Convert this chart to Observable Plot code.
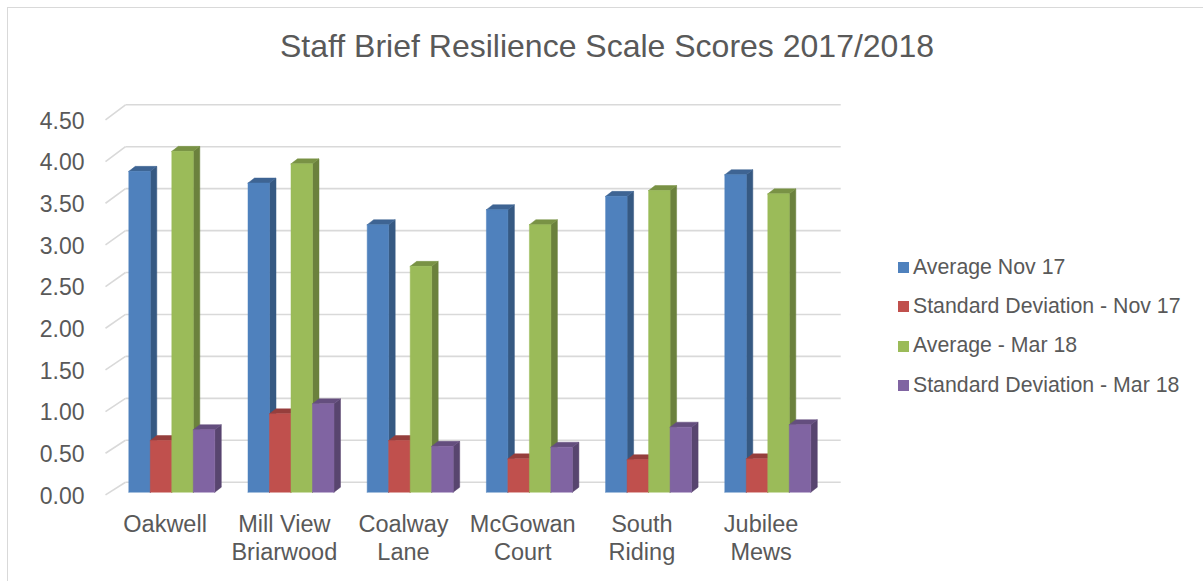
<!DOCTYPE html>
<html>
<head>
<meta charset="utf-8">
<script src="https://cdn.jsdelivr.net/npm/d3@7"></script>
<script src="https://cdn.jsdelivr.net/npm/@observablehq/plot@0.6"></script>
<style>
  body { margin: 0; background: #fff; font-family: "Liberation Sans", Arial, sans-serif; }
  #chart { position: relative; width: 1203px; height: 581px; overflow: hidden; }
  #chart svg { position: absolute; left: 0; top: 0; }
  #frame { position: absolute; left: 6.5px; top: 6.5px; width: 1400px; height: 800px;
           border-left: 1px solid #d9d9d9; border-top: 1px solid #d9d9d9; }
  #title { position: absolute; left: 0; width: 1214px; top: 29.6px; text-align: center;
           font-size: 32px; line-height: 32px; color: #595959; white-space: nowrap; }
  .key { position: absolute; left: 898px; height: 24px; font-size: 21.3px; line-height: 21.3px;
         color: #595959; white-space: nowrap; }
  .key i { position: absolute; left: 0; top: 5.3px; width: 11px; height: 11px; }
  .key span { position: absolute; left: 15px; top: 0; }
</style>
</head>
<body>
<div id="chart">
  <div id="frame"></div>
  <div id="title">Staff Brief Resilience Scale Scores 2017/2018</div>
</div>
<script>
// Sites and the four measured series
const categories = ["Oakwell", "Mill View\nBriarwood", "Coalway\nLane", "McGowan\nCourt", "South\nRiding", "Jubilee\nMews"];
const seriesNames = ["Average Nov 17", "Standard Deviation - Nov 17", "Average - Mar 18", "Standard Deviation - Mar 18"];
const avgNov17 = [3.85, 3.71, 3.21, 3.39, 3.55, 3.81];
const sdNov17  = [0.62, 0.94, 0.62, 0.40, 0.39, 0.40];
const avgMar18 = [4.09, 3.94, 2.71, 3.21, 3.62, 3.58];
const sdMar18  = [0.75, 1.06, 0.55, 0.54, 0.78, 0.81];
const yTicks = [0, 0.5, 1, 1.5, 2, 2.5, 3, 3.5, 4, 4.5];
const seriesColors = ["#4f81bd", "#c0504d", "#9bbb59", "#8064a2"];

const series = [avgNov17, sdNov17, avgMar18, sdMar18];

// Frame of the front plane (pixels)
const W = 1203, H = 581;
const plotLeft = 105, plotRight = 820.2, plotTop = 119.4, plotBottom = 494.4;
const pxX = (plotRight - plotLeft) / categories.length;   // pixels per category
const pxY = (plotBottom - plotTop) / 4.5;                 // pixels per score unit

// Oblique 3D offsets, expressed in scale units
const wallDX = 20 / pxX;            // back wall sits behind the front plane
const wallLift = 12.7 / pxY;        // back wall raised at zero
const wallScale = 1.0065;           // slight perspective on the back wall
const lead = 23.3 / pxX;            // space before the first bar of a group
const barW = 21.5 / pxX;            // bar width
const baseLift = 2.7 / pxY;         // bars stand a little behind the front edge
const depthX = 6.5 / pxX, depthY = 5 / pxY;   // bar depth

const back = v => v * wallScale + wallLift;

// Shade helper for side and top faces
const shade = (c, k) => d3.rgb(c).darker(k).formatHex();

// Build the faces of every bar, in drawing order
const faces = [];
categories.forEach((cat, i) => {
  series.forEach((vals, k) => {
    const v = vals[i];
    const x1 = i + lead + k * barW, x2 = x1 + barW;
    const b = baseLift, t = v + baseLift;
    const col = seriesColors[k];
    const poly = (name, pts, color) => {
      const id = `${i}-${k}-${name}`;
      [...pts, pts[0]].forEach(([x, y]) => faces.push({id, x, y, color}));
    };
    poly("side", [[x2, b], [x2 + depthX, b + depthY], [x2 + depthX, t + depthY], [x2, t]], shade(col, 1.05));
    poly("top", [[x1, t], [x2, t], [x2 + depthX, t + depthY], [x1 + depthX, t + depthY]], shade(col, 0.7));
    poly("front", [[x1, b], [x2, b], [x2, t], [x1, t]], col);
  });
});

const labelLine = n => d => d.split("\n")[n] ?? "";

const plot = Plot.plot({
  width: W,
  height: H,
  marginLeft: plotLeft,
  marginRight: W - plotRight,
  marginTop: plotTop,
  marginBottom: H - plotBottom,
  x: {domain: [0, categories.length], axis: null},
  y: {domain: [0, 4.5], axis: null},
  color: {type: "identity"},
  style: {fontFamily: "'Liberation Sans', Arial, sans-serif", color: "#595959", background: "transparent"},
  marks: [
    // back wall gridlines
    Plot.link(yTicks, {x1: wallDX, x2: categories.length + wallDX, y1: back, y2: back,
                       stroke: "#d9d9d9", strokeWidth: 1.6}),
    // side wall gridlines
    Plot.link(yTicks, {x1: 0, x2: wallDX, y1: d => d, y2: back, stroke: "#d9d9d9", strokeWidth: 1.6}),
    // 3D columns
    Plot.line(faces, {x: "x", y: "y", z: "id", fill: "color", stroke: "color", strokeWidth: 0.5, curve: "linear"}),
    // value axis labels
    Plot.text(yTicks, {x: 0, y: d => d, text: d => d.toFixed(2), textAnchor: "end", dx: -21, dy: 1.5,
                       fontSize: 23, fill: "#595959"}),
    // category labels, first and second lines
    Plot.text(categories, {x: (d, i) => i + 0.5, y: 0, text: labelLine(0), dy: 29.8,
                           fontSize: 23.5, fill: "#595959"}),
    Plot.text(categories, {x: (d, i) => i + 0.5, y: 0, text: labelLine(1), dy: 57.1,
                           fontSize: 23.5, fill: "#595959"})
  ]
});

const chart = document.getElementById("chart");
chart.insertBefore(plot, chart.firstChild);

// Legend
seriesNames.forEach((name, k) => {
  const row = document.createElement("div");
  row.className = "key";
  row.style.top = (257 + k * 39.2) + "px";
  const sw = document.createElement("i");
  sw.style.background = seriesColors[k];
  const label = document.createElement("span");
  label.textContent = name;
  row.appendChild(sw);
  row.appendChild(label);
  chart.appendChild(row);
});
</script>
</body>
</html>
